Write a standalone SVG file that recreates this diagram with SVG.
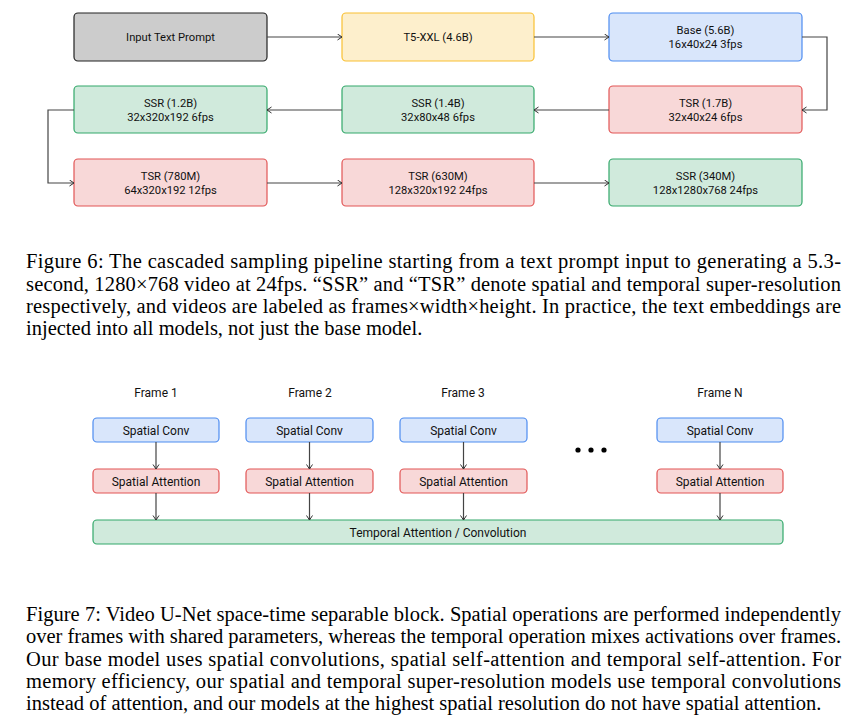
<svg xmlns="http://www.w3.org/2000/svg" width="858" height="719" viewBox="0 0 858 719">
<defs>
<marker id="arr" markerWidth="8" markerHeight="8" refX="5" refY="3.5" orient="auto" markerUnits="userSpaceOnUse">
<path d="M0.5,0.5 L5,3.5 L0.5,6.5" fill="none" stroke="#333" stroke-width="1"/>
</marker>
<style>
.box{stroke-width:1.2}
.gray{fill:#cccccc;stroke:#222222}
.yellow{fill:#fdefcc;stroke:#f9c033}
.blue{fill:#d9e6fb;stroke:#4d8cf0}
.red{fill:#f8d8d8;stroke:#e25555}
.green{fill:#d0eadc;stroke:#33a86a}
.lbl{font-family:Roboto,"Liberation Sans",sans-serif;font-size:11.2px;fill:#111;text-anchor:middle}
.lbl2{font-family:Roboto,"Liberation Sans",sans-serif;font-size:12px;fill:#111;text-anchor:middle}
.conn{fill:none;stroke:#444;stroke-width:1.2;marker-end:url(#arr)}
.cap{font-family:"Liberation Serif","Times New Roman",serif;font-size:20.5px;fill:#000}
</style>
</defs>
<rect width="858" height="719" fill="#ffffff"/>

<g id="fig6-nodes">
<g id="input"><rect class="box gray" x="74" y="13" width="193" height="48" rx="4"/><text class="lbl" x="170.5" y="41">Input Text Prompt</text></g>
<g id="t5"><rect class="box yellow" x="342" y="13" width="192" height="48" rx="4"/><text class="lbl" x="438" y="41">T5-XXL (4.6B)</text></g>
<g id="base"><rect class="box blue" x="609" y="13" width="193" height="48" rx="4"/><text class="lbl" x="705.5" y="34">Base (5.6B)</text><text class="lbl" x="705.5" y="48">16x40x24 3fps</text></g>
<g id="tsr17"><rect class="box red" x="609" y="86" width="193" height="47" rx="4"/><text class="lbl" x="705.5" y="107">TSR (1.7B)</text><text class="lbl" x="705.5" y="121">32x40x24 6fps</text></g>
<g id="ssr14"><rect class="box green" x="342" y="86" width="192" height="47" rx="4"/><text class="lbl" x="438" y="107">SSR (1.4B)</text><text class="lbl" x="438" y="121">32x80x48 6fps</text></g>
<g id="ssr12"><rect class="box green" x="74" y="86" width="193" height="47" rx="4"/><text class="lbl" x="170.5" y="107">SSR (1.2B)</text><text class="lbl" x="170.5" y="121">32x320x192 6fps</text></g>
<g id="tsr780"><rect class="box red" x="74" y="159" width="193" height="47" rx="4"/><text class="lbl" x="170.5" y="180">TSR (780M)</text><text class="lbl" x="170.5" y="194">64x320x192 12fps</text></g>
<g id="tsr630"><rect class="box red" x="342" y="159" width="192" height="47" rx="4"/><text class="lbl" x="438" y="180">TSR (630M)</text><text class="lbl" x="438" y="194">128x320x192 24fps</text></g>
<g id="ssr340"><rect class="box green" x="609" y="159" width="193" height="47" rx="4"/><text class="lbl" x="705.5" y="180">SSR (340M)</text><text class="lbl" x="705.5" y="194">128x1280x768 24fps</text></g>
</g>

<g id="fig6-connectors">
<path class="conn" d="M267,37 H342"/>
<path class="conn" d="M534,37 H609"/>
<path class="conn" d="M802,37 H827 V110 H802"/>
<path class="conn" d="M609,110 H534"/>
<path class="conn" d="M342,110 H267"/>
<path class="conn" d="M74,110 H48 V183 H74"/>
<path class="conn" d="M267,183 H342"/>
<path class="conn" d="M534,183 H609"/>
</g>

<g id="caption6" class="cap">
<text x="26" y="268.3" textLength="815" lengthAdjust="spacing">Figure 6: The cascaded sampling pipeline starting from a text prompt input to generating a 5.3-</text>
<text x="26" y="290.5" textLength="815" lengthAdjust="spacing">second, 1280×768 video at 24fps. “SSR” and “TSR” denote spatial and temporal super-resolution</text>
<text x="26" y="312.7" textLength="815" lengthAdjust="spacing">respectively, and videos are labeled as frames×width×height. In practice, the text embeddings are</text>
<text x="26" y="334.9">injected into all models, not just the base model.</text>
</g>

<g id="fig7-labels">
<text class="lbl2" x="156" y="397">Frame 1</text>
<text class="lbl2" x="310" y="397">Frame 2</text>
<text class="lbl2" x="463" y="397">Frame 3</text>
<text class="lbl2" x="720" y="397">Frame N</text>
</g>

<g id="fig7-nodes">
<g id="conv1"><rect class="box blue" x="93" y="418" width="126" height="24" rx="4"/><text class="lbl2" x="156" y="434.5">Spatial Conv</text></g>
<g id="conv2"><rect class="box blue" x="246" y="418" width="127" height="24" rx="4"/><text class="lbl2" x="309.5" y="434.5">Spatial Conv</text></g>
<g id="conv3"><rect class="box blue" x="400" y="418" width="127" height="24" rx="4"/><text class="lbl2" x="463.5" y="434.5">Spatial Conv</text></g>
<g id="convN"><rect class="box blue" x="657" y="418" width="126" height="24" rx="4"/><text class="lbl2" x="720" y="434.5">Spatial Conv</text></g>
<g id="att1"><rect class="box red" x="93" y="469" width="126" height="24" rx="4"/><text class="lbl2" x="156" y="485.5">Spatial Attention</text></g>
<g id="att2"><rect class="box red" x="246" y="469" width="127" height="24" rx="4"/><text class="lbl2" x="309.5" y="485.5">Spatial Attention</text></g>
<g id="att3"><rect class="box red" x="400" y="469" width="127" height="24" rx="4"/><text class="lbl2" x="463.5" y="485.5">Spatial Attention</text></g>
<g id="attN"><rect class="box red" x="657" y="469" width="126" height="24" rx="4"/><text class="lbl2" x="720" y="485.5">Spatial Attention</text></g>
<g id="temporal"><rect class="box green" x="93" y="520" width="690" height="24" rx="4"/><text class="lbl2" x="438" y="536.5">Temporal Attention / Convolution</text></g>
<g id="ellipsis" fill="#000"><circle cx="578" cy="450" r="2.6"/><circle cx="591" cy="450" r="2.6"/><circle cx="604" cy="450" r="2.6"/></g>
</g>

<g id="fig7-connectors">
<path class="conn" d="M156,442 V469"/>
<path class="conn" d="M309.5,442 V469"/>
<path class="conn" d="M463.5,442 V469"/>
<path class="conn" d="M720,442 V469"/>
<path class="conn" d="M156,493 V520"/>
<path class="conn" d="M309.5,493 V520"/>
<path class="conn" d="M463.5,493 V520"/>
<path class="conn" d="M720,493 V520"/>
</g>

<g id="caption7" class="cap">
<text x="26" y="621" textLength="815" lengthAdjust="spacing">Figure 7: Video U-Net space-time separable block. Spatial operations are performed independently</text>
<text x="26" y="643.3" textLength="815" lengthAdjust="spacing">over frames with shared parameters, whereas the temporal operation mixes activations over frames.</text>
<text x="26" y="665.5" textLength="815" lengthAdjust="spacing">Our base model uses spatial convolutions, spatial self-attention and temporal self-attention.  For</text>
<text x="26" y="687.8" textLength="815" lengthAdjust="spacing">memory efficiency, our spatial and temporal super-resolution models use temporal convolutions</text>
<text x="26" y="710">instead of attention, and our models at the highest spatial resolution do not have spatial attention.</text>
</g>
</svg>
